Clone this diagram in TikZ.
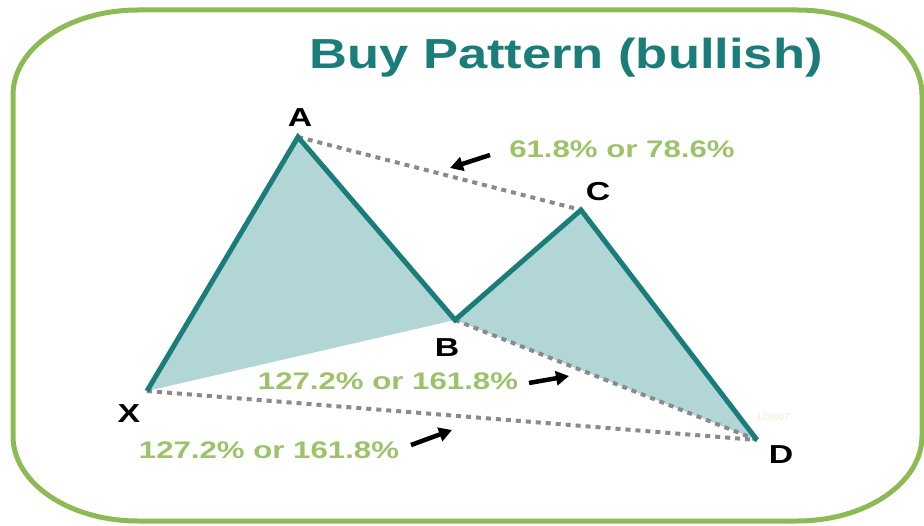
\documentclass[tikz,border=0pt]{standalone}
\usepackage{fontspec}
\setmainfont{Liberation Sans}
\newfontfamily\wfont{Liberation Sans}[FakeStretch=1.3]
\newfontfamily\tfont{Liberation Sans}[FakeStretch=1.25]
\usetikzlibrary{arrows.meta}
\definecolor{frame}{HTML}{8CBB55}
\definecolor{tealline}{HTML}{1B7D7A}
\definecolor{tealfill}{HTML}{B2D6D6}
\definecolor{lblgreen}{HTML}{9CC36A}
\definecolor{dotgray}{HTML}{8A8A8A}
\definecolor{wmark}{HTML}{ECECD6}
\tikzset{
  leg/.style={line width=5pt, tealline},
  ratio/.style={line width=4pt, dotgray, dash pattern=on 5pt off 5pt},
  pt/.style={font=\wfont\bfseries\fontsize{26}{28}\selectfont, text=black, inner sep=0pt},
  pct/.style={font=\wfont\bfseries\fontsize{24}{26}\selectfont, text=lblgreen, inner sep=0pt},
  pointer/.style={line width=4.5pt, black, -{Triangle[length=13pt,width=14pt]}}
}
\begin{document}
\begin{tikzpicture}[x=1pt,y=-1pt]
\useasboundingbox (0,0) rectangle (924,526);
\draw[frame, line width=5pt] (138,10) -- (797,10)
  arc[start angle=-90, end angle=0, x radius=125, y radius=85] -- (922,436)
  arc[start angle=0, end angle=90, x radius=125, y radius=85] -- (138,521)
  arc[start angle=90, end angle=180, x radius=125, y radius=85] -- (13,95)
  arc[start angle=180, end angle=270, x radius=125, y radius=85] -- cycle;
\node[font=\tfont\bfseries\fontsize{42}{44}\selectfont, text=tealline, inner sep=0pt] (title) at (566,58) {Buy Pattern (bullish)};
\coordinate (X) at (147,391);
\coordinate (A) at (298,137);
\coordinate (B) at (455,320);
\coordinate (C) at (581,210);
\coordinate (D) at (757,440);
\fill[tealfill] (X) -- (A) -- (B) -- (C) -- (D) -- (B) -- cycle;
\node[font=\fontsize{10}{11}\selectfont, text=wmark, inner sep=0pt] (wm) at (773,417) {1/06/07};
\draw[ratio] (A) -- (C);
\draw[ratio] (B) -- (D);
\draw[ratio] (X) -- (D);
\draw[leg] (X) -- (A) -- (B) -- (C) -- (D);
\node[pt] (lA) at (300,118) {A};
\node[pt] (lB) at (447,348) {B};
\node[pt] (lC) at (598,192) {C};
\node[pt] (lX) at (129,414) {X};
\node[pt] (lD) at (781,455) {D};
\node[pct] (p1) at (622,149) {61.8\% or 78.6\%};
\node[pct] (p2) at (388,381) {127.2\% or 161.8\%};
\node[pct] (p3) at (269,450) {127.2\% or 161.8\%};
\coordinate (a1s) at (490,155); \coordinate (a1e) at (450,168);
\coordinate (a2s) at (529,383); \coordinate (a2e) at (569,376);
\coordinate (a3s) at (411,445); \coordinate (a3e) at (452,430);
\draw[pointer] (a1s) -- (a1e);
\draw[pointer] (a2s) -- (a2e);
\draw[pointer] (a3s) -- (a3e);
\end{tikzpicture}
\end{document}
